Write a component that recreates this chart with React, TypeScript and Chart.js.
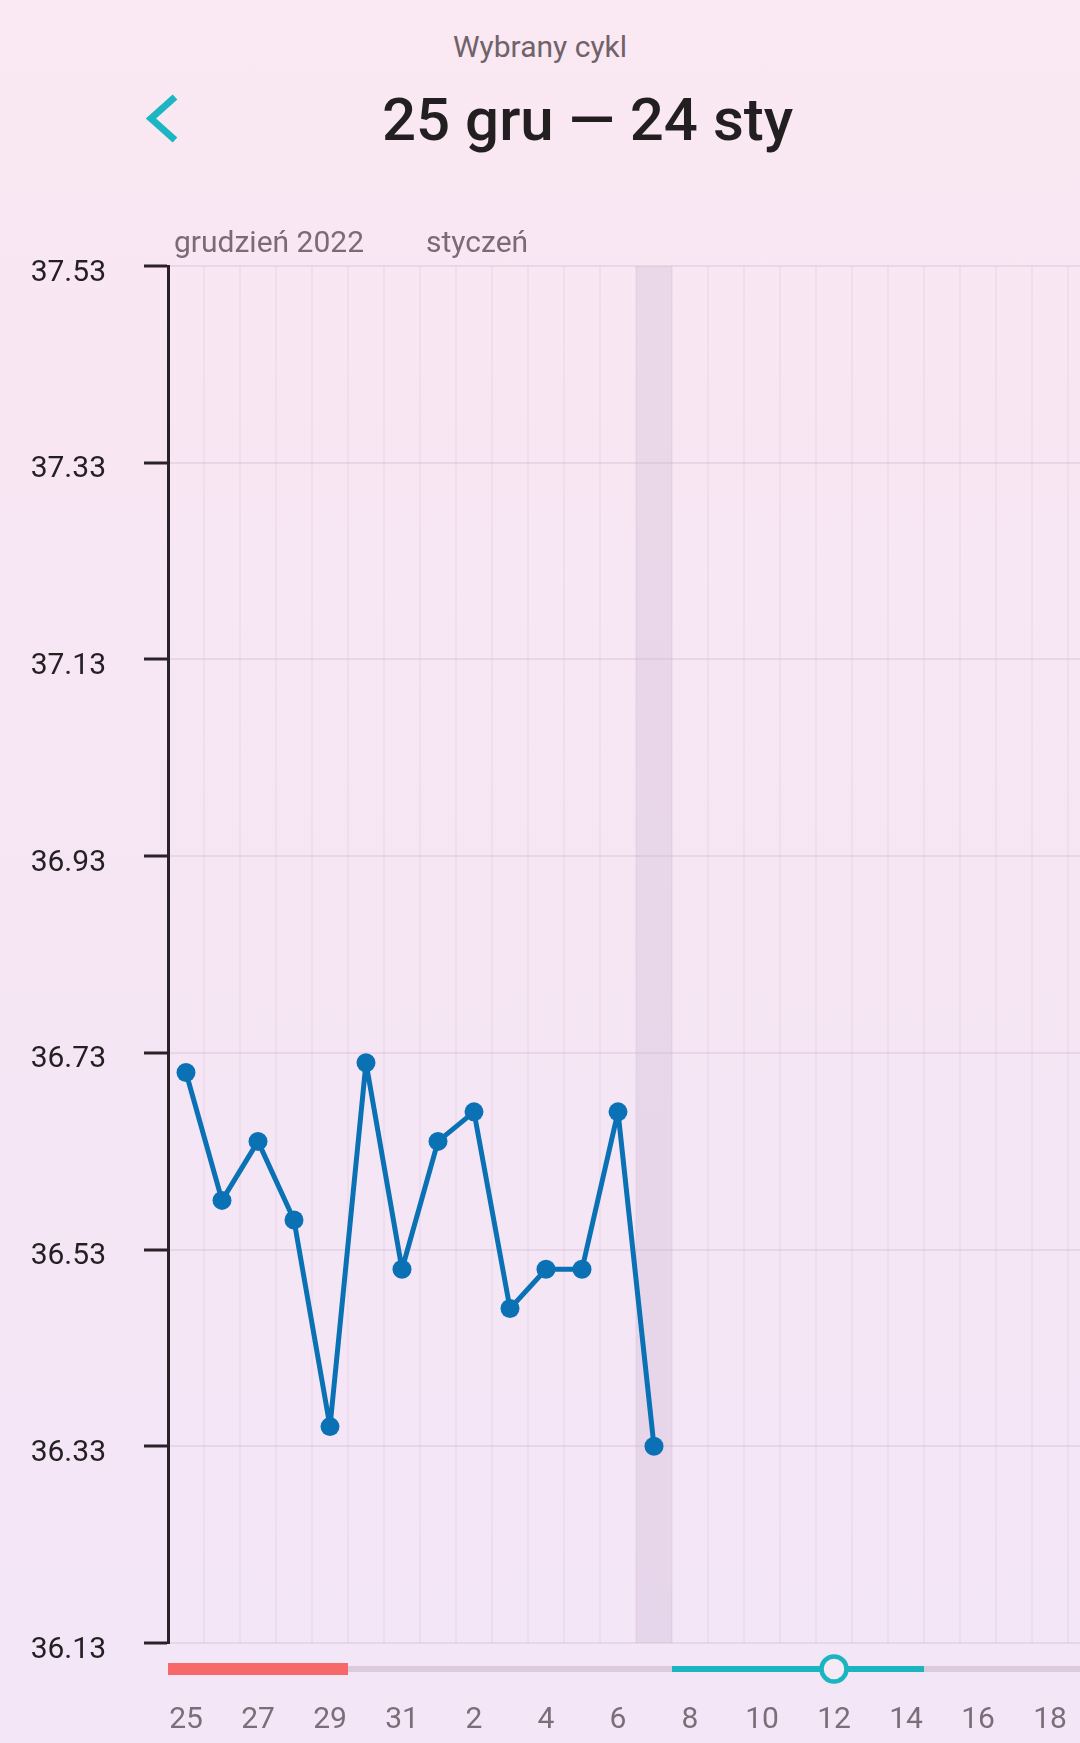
import React, { useEffect, useRef } from "react";
import { Chart, registerables } from "chart.js";

Chart.register(...registerables);

// ---- data ----
const dayLabels = [
  "25", "26", "27", "28", "29", "30", "31",
  "1", "2", "3", "4", "5", "6", "7", "8", "9", "10", "11", "12", "13", "14",
  "15", "16", "17", "18", "19", "20", "21", "22", "23", "24",
];
const temperatures = [
  36.71, 36.58, 36.64, 36.56, 36.35, 36.72, 36.51,
  36.64, 36.67, 36.47, 36.51, 36.51, 36.67, 36.33,
];
const yTicks = [36.13, 36.33, 36.53, 36.73, 36.93, 37.13, 37.33, 37.53];
const monthLabels = [
  { index: 0, text: "grudzień 2022" },
  { index: 7, text: "styczeń" },
];
const todayIndex = 13;
const periodDays = [0, 4]; // first..last index
const fertileDays = [14, 20];
const ovulationIndex = 18;
const titleSmall = "Wybrany cykl";
const titleMain = "25 gru — 24 sty";

const FONT = "Roboto, 'Noto Sans', sans-serif";

const overlayPlugin = {
  id: "cycleOverlay",
  beforeDatasetsDraw(chart: any) {
    const { ctx, chartArea } = chart;
    const x = chart.scales.x;
    const w = x.getPixelForValue(1) - x.getPixelForValue(0);
    const cx = x.getPixelForValue(todayIndex);
    ctx.save();
    ctx.fillStyle = "rgba(195,170,200,0.26)";
    ctx.fillRect(cx - w / 2, chartArea.top, w, chartArea.bottom - chartArea.top);
    ctx.restore();
  },
  afterDraw(chart: any) {
    const { ctx, chartArea } = chart;
    const x = chart.scales.x;
    const w = x.getPixelForValue(1) - x.getPixelForValue(0);
    const left = (i: number) => x.getPixelForValue(i) - w / 2;
    ctx.save();
    // month labels
    ctx.fillStyle = "#7b6b76";
    ctx.font = `30px ${FONT}`;
    ctx.textBaseline = "alphabetic";
    ctx.textAlign = "left";
    monthLabels.forEach((m) => ctx.fillText(m.text, left(m.index) + 6, 252));
    // track
    const yc = 1669;
    ctx.fillStyle = "#dccbdd";
    ctx.fillRect(chartArea.left, yc - 3, chart.width - chartArea.left, 6);
    // period
    ctx.fillStyle = "#f76868";
    ctx.fillRect(left(periodDays[0]), yc - 6, left(periodDays[1] + 1) - left(periodDays[0]), 12);
    // fertile window
    ctx.fillStyle = "#1ab5c1";
    ctx.fillRect(left(fertileDays[0]), yc - 3, left(fertileDays[1] + 1) - left(fertileDays[0]), 6);
    // ovulation marker
    const ox = x.getPixelForValue(ovulationIndex);
    ctx.beginPath();
    ctx.arc(ox, yc, 12.5, 0, Math.PI * 2);
    ctx.fillStyle = "#f6eaf6";
    ctx.fill();
    ctx.lineWidth = 4.5;
    ctx.strokeStyle = "#1ab5c1";
    ctx.stroke();
    ctx.restore();
  },
};

export default function App() {
  const ref = useRef<HTMLCanvasElement | null>(null);

  useEffect(() => {
    if (!ref.current) return;
    const chart = new Chart(ref.current, {
      type: "line",
      data: {
        labels: dayLabels,
        datasets: [
          {
            data: temperatures,
            borderColor: "#0a72b4",
            backgroundColor: "#0a72b4",
            borderWidth: 5,
            borderJoinStyle: "round",
            pointRadius: 9.5,
            pointBorderWidth: 0,
            pointBackgroundColor: "#0a72b4",
            tension: 0,
            fill: false,
          },
        ],
      },
      options: {
        animation: false,
        responsive: false,
        devicePixelRatio: 1,
        layout: { padding: { left: 0, right: 16, top: 266, bottom: 0 } },
        plugins: { legend: { display: false }, tooltip: { enabled: false } },
        scales: {
          x: {
            type: "category",
            offset: true,
            grid: {
              offset: true,
              color: "rgba(190,155,185,0.12)",
              lineWidth: 2,
              drawTicks: true,
              tickLength: 59,
              tickColor: "rgba(0,0,0,0)",
            },
            border: { display: false },
            ticks: {
              autoSkip: false,
              maxRotation: 0,
              padding: 0,
              color: "#7d6d78",
              font: { family: FONT, size: 30 },
              callback: (_v: any, i: number) => (i % 2 === 0 ? dayLabels[i] : ""),
            },
            afterFit: (s: any) => {
              s.height = 100;
            },
          },
          y: {
            min: yTicks[0],
            max: yTicks[yTicks.length - 1],
            afterBuildTicks: (s: any) => {
              s.ticks = yTicks.map((v) => ({ value: v }));
            },
            grid: {
              color: "rgba(190,155,185,0.22)",
              lineWidth: 2,
              tickLength: 24,
              tickColor: "#2b2128",
              tickWidth: 3,
            },
            border: { color: "#2b2128", width: 3 },
            ticks: {
              padding: 38,
              labelOffset: 7,
              color: "#231f22",
              font: { family: FONT, size: 30 },
              callback: (v: any) => Number(v).toFixed(2),
            },
            afterFit: (s: any) => {
              s.width = 168;
            },
          },
        },
      },
      plugins: [overlayPlugin],
    } as any);
    return () => chart.destroy();
  }, []);

  return (
    <div
      style={{
        position: "absolute",
        left: 0,
        top: 0,
        width: 1080,
        height: 1743,
        overflow: "hidden",
        background: "linear-gradient(180deg, #fae8f2 0%, #f6e6f4 50%, #f3e6f7 100%)",
        fontFamily: FONT,
      }}
    >
      <div
        style={{
          position: "absolute",
          left: 0,
          width: 1080,
          top: 29,
          textAlign: "center",
          fontSize: 30,
          lineHeight: "36px",
          color: "#6f6269",
        }}
      >
        {titleSmall}
      </div>
      <svg
        style={{ position: "absolute", left: 140, top: 88 }}
        width={50}
        height={64}
        viewBox="140 88 50 64"
      >
        <polyline
          points="175,97 151,118.5 175,140"
          fill="none"
          stroke="#1cb6c2"
          strokeWidth={7}
          strokeLinecap="butt"
          strokeLinejoin="miter"
        />
      </svg>
      <div
        style={{
          position: "absolute",
          left: 382,
          width: 400,
          top: 86,
          textAlign: "center",
          fontSize: 60,
          fontWeight: 500,
          lineHeight: "68px",
          color: "#231f20",
          whiteSpace: "nowrap",
        }}
      >
        {titleMain}
      </div>
      <canvas
        ref={ref}
        width={1300}
        height={1743}
        style={{ position: "absolute", left: 0, top: 0, width: 1300, height: 1743 }}
      />
    </div>
  );
}
